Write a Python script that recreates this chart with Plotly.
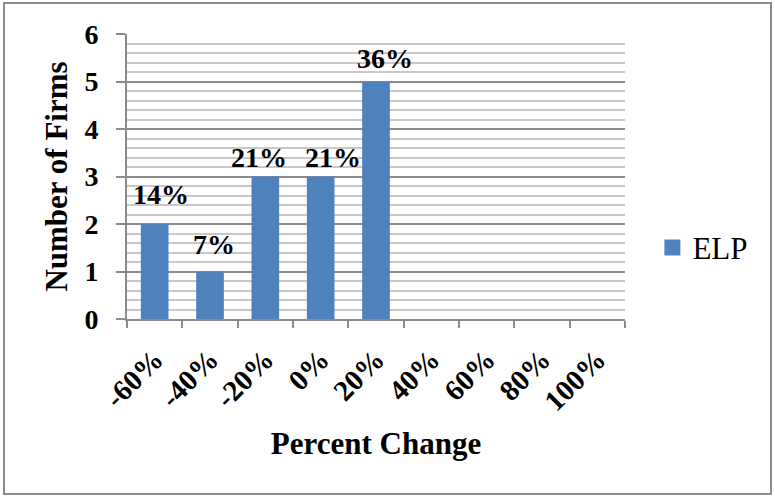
import plotly.graph_objects as go

# Distribution of firms by percent change
categories = ["-60%", "-40%", "-20%", "0%", "20%", "40%", "60%", "80%", "100%"]
firm_counts = [2, 1, 3, 3, 5, 0, 0, 0, 0]
share_labels = ["14%", "7%", "21%", "21%", "36%", "", "", "", ""]
label_shift = [6, 4, -6, 12, 9, 0, 0, 0, 0]
label_lift = [12, 10, 2, 2, 6, 0, 0, 0, 0]

W, H = 775, 497
ML, MR, MT, MB = 127, 150, 34, 178
PW, PH = W - ML - MR, H - MT - MB

FONT = "Liberation Serif"
BAR_COLOR = "#4F81BD"

fig = go.Figure()
fig.add_trace(go.Bar(
    x=categories, y=firm_counts, name="ELP", showlegend=False,
    marker=dict(color=BAR_COLOR, line=dict(width=0)),
    width=0.5,
))
# legend entry with a larger square swatch
fig.add_trace(go.Scatter(
    x=[None], y=[None], mode="markers", name="ELP",
    marker=dict(symbol="square", size=22, color=BAR_COLOR),
))

for cat, val, lab, dx, dy in zip(categories, firm_counts, share_labels, label_shift, label_lift):
    if lab:
        fig.add_annotation(
            x=cat, y=val, text="<b>%s</b>" % lab, showarrow=False,
            yanchor="bottom", yshift=dy, xshift=dx,
            font=dict(family=FONT, size=28, color="black"),
        )

# outer frame around the whole chart
fig.add_shape(
    type="rect", xref="paper", yref="paper",
    x0=(4 - ML) / PW, x1=(771 - ML) / PW,
    y0=(H - MB - 494) / PH, y1=(H - MB - 3) / PH,
    line=dict(color="#8c8c8c", width=2), layer="below",
)

fig.update_layout(
    width=W, height=H,
    margin=dict(l=ML, r=MR, t=MT, b=MB, pad=0),
    paper_bgcolor="white", plot_bgcolor="white",
    font=dict(family=FONT, color="black"),
    bargap=0.5,
    showlegend=True,
    legend=dict(
        x=1.055, y=0.25, xanchor="left", yanchor="middle",
        font=dict(family=FONT, size=31, color="black"),
        itemwidth=30, itemsizing="trace", bgcolor="rgba(0,0,0,0)",
    ),
    xaxis=dict(
        type="category",
        tickangle=-45,
        tickfont=dict(family=FONT, size=29, color="black"),
        tickprefix="<b>", ticksuffix="</b>",
        ticks="outside", ticklen=7, tickcolor="#8c8c8c", tickwidth=2,
        tickson="boundaries",
        ticklabelstandoff=10,
        showline=True, linecolor="#8c8c8c", linewidth=2,
        showgrid=False,
        title=dict(text="<b>Percent Change</b>", font=dict(family=FONT, size=31, color="black"), standoff=16),
    ),
    yaxis=dict(
        range=[0, 6], dtick=1,
        tickfont=dict(family=FONT, size=28, color="black"),
        tickprefix="<b>", ticksuffix="</b>",
        ticks="outside", ticklen=9, tickcolor="#8c8c8c", tickwidth=2,
        ticklabelstandoff=12,
        showline=True, linecolor="#8c8c8c", linewidth=2,
        showgrid=True, gridcolor="#8c8c8c", gridwidth=2,
        zeroline=False,
        minor=dict(dtick=0.2, showgrid=True, gridcolor="#c8c8c8", gridwidth=2),
        title=dict(text="<b>Number of Firms</b>", font=dict(family=FONT, size=31, color="black"), standoff=8),
    ),
)

fig.write_html("out.html")
